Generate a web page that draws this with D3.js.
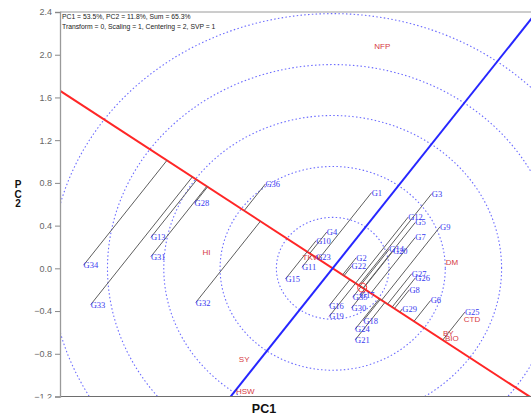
<!DOCTYPE html>
<html><head><meta charset="utf-8">
<script src="https://cdn.jsdelivr.net/npm/d3@7/dist/d3.min.js"></script>
<style>body{margin:0;background:#fff}</style>
</head><body>
<svg id="chart" width="531" height="418"></svg>
<script>
// Genotype scores on the first two principal components
const genotypes = ["G1","G2","G3","G4","G5","G6","G7","G8","G9","G10","G11","G12","G13","G14","G15","G16","G17","G18","G19","G20","G21","G22","G23","G24","G25","G26","G27","G28","G29","G30","G31","G32","G33","G34","G35","G36"];
const genoPC1 = [0.33,0.20,0.84,-0.05,0.70,0.83,0.70,0.65,0.91,-0.14,-0.26,0.64,-1.54,0.48,-0.40,-0.03,0.23,0.26,-0.03,0.51,0.19,0.16,-0.14,0.19,1.12,0.70,0.67,-1.17,0.59,0.16,-1.54,-1.16,-2.05,-2.11,0.17,-0.57];
const genoPC2 = [0.71,0.10,0.70,0.34,0.43,-0.30,0.29,-0.20,0.39,0.26,0.01,0.48,0.29,0.18,-0.10,-0.35,-0.25,-0.49,-0.45,0.16,-0.67,0.02,0.11,-0.57,-0.41,-0.09,-0.05,0.61,-0.38,-0.37,0.11,-0.32,-0.34,0.03,-0.27,0.79];

// Trait (environment) scores
const environments = ["NFP","HI","DM","TKW","CTD","BY","BIO","SY","HSW"];
const envPC1 = [0.42,-1.07,1.01,-0.18,1.18,0.98,1.01,-0.75,-0.74];
const envPC2 = [2.08,0.15,0.06,0.11,-0.47,-0.61,-0.65,-0.85,-1.15];

// Average environment coordinate
const avgEnv = [0.25, -0.18];

const yTicks = [2.4,2.0,1.6,1.2,0.8,0.4,0.0,-0.4,-0.8,-1.2];
const ringRadii = [0.477,0.954,1.431,1.908,2.385];

const headerLines = ["PC1 = 53.5%, PC2 = 11.8%, Sum = 65.3%",
                     "Transform = 0, Scaling = 1, Centering = 2, SVP = 1"];

const svg = d3.select("#chart");
const plotLeft = 60, plotTop = 12, plotBottom = 396.5, plotRight = 531;

const x = d3.scaleLinear().domain([-2.31, 1.68]).range([plotLeft, plotRight]);
const y = d3.scaleLinear().domain([-1.2, 2.4]).range([plotBottom, plotTop]);

svg.append("defs").append("clipPath").attr("id","plot")
  .append("rect").attr("x",plotLeft).attr("y",plotTop).attr("width",600).attr("height",plotBottom-plotTop);

const plot = svg.append("g").attr("clip-path","url(#plot)");

// concentric rings around the biplot origin
const line = d3.line().x(d=>x(d[0])).y(d=>y(d[1]));
ringRadii.forEach(r=>{
  const pts = d3.range(0,361,2).map(a=>[r*Math.cos(a*Math.PI/180), r*Math.sin(a*Math.PI/180)]);
  plot.append("path").attr("d", line(pts))
    .attr("fill","none").attr("stroke","#6b6bff").attr("stroke-width",1.1)
    .attr("stroke-dasharray","1.5,2.3");
});

// AEC abscissa (through origin and average environment) and ordinate
const len = Math.hypot(avgEnv[0], avgEnv[1]);
const u = [avgEnv[0]/len, avgEnv[1]/len];
const far = 6;
plot.append("path").attr("d", line([[-far*u[0],-far*u[1]],[far*u[0],far*u[1]]]))
  .attr("stroke","#ff2626").attr("stroke-width",2).attr("fill","none");
plot.append("path").attr("d", line([[far*u[1],-far*u[0]],[-far*u[1],far*u[0]]]))
  .attr("stroke","#2626ff").attr("stroke-width",2).attr("fill","none");

// projection of each genotype onto the AEC abscissa
genotypes.forEach((g,i)=>{
  const p = [genoPC1[i], genoPC2[i]];
  const t = p[0]*u[0] + p[1]*u[1];
  plot.append("path").attr("d", line([p,[t*u[0],t*u[1]]]))
    .attr("stroke","#5e5e5e").attr("stroke-width",1).attr("fill","none");
});

// average environment marker
plot.append("circle").attr("cx",x(avgEnv[0])).attr("cy",y(avgEnv[1])).attr("r",4.5)
  .attr("fill","none").attr("stroke","#ff3333").attr("stroke-width",1);

// environment labels
environments.forEach((e,i)=>{
  plot.append("text").attr("x",x(envPC1[i])).attr("y",y(envPC2[i])+3)
    .attr("text-anchor","middle").attr("fill","#d63a3f")
    .attr("font-family","Liberation Sans, Arial, sans-serif").attr("font-size",8)
    .text(e);
});

// genotype labels
genotypes.forEach((g,i)=>{
  plot.append("text").attr("x",x(genoPC1[i])).attr("y",y(genoPC2[i])+3)
    .attr("fill","#3a3af0")
    .attr("font-family","Liberation Serif, Times New Roman, serif").attr("font-size",8.5)
    .text(g);
});

// frame
svg.append("line").attr("x1",plotLeft).attr("x2",plotRight).attr("y1",plotTop).attr("y2",plotTop)
  .attr("stroke","#9a9a9a").attr("stroke-width",1);
svg.append("line").attr("x1",plotLeft).attr("x2",plotRight).attr("y1",plotBottom).attr("y2",plotBottom)
  .attr("stroke","#6e6e6e").attr("stroke-width",1.2);

const ax = svg.append("g").attr("transform",`translate(${plotLeft},0)`)
  .call(d3.axisLeft(y).tickValues(yTicks).tickSize(5).tickPadding(3).tickFormat(d3.format(".1f")));
ax.select(".domain").attr("stroke","#9a9a9a").attr("stroke-width",1.3);
ax.selectAll(".tick line").attr("stroke","#888");
ax.selectAll(".tick text").attr("fill","#666").attr("font-size",9)
  .attr("font-family","Liberation Sans, Arial, sans-serif");

// header text
headerLines.forEach((t,i)=>{
  svg.append("text").attr("x",62).attr("y",19+i*9.5).attr("font-size",6.8)
    .attr("font-family","Liberation Sans, Arial, sans-serif").attr("fill","#222").text(t);
});

// cover below the frame, then axis titles
svg.append("rect").attr("x",0).attr("y",398.5).attr("width",531).attr("height",20).attr("fill","#fff");
svg.append("text").attr("x",264).attr("y",413).attr("text-anchor","middle")
  .attr("font-family","Liberation Sans, Arial, sans-serif").attr("font-weight","bold")
  .attr("font-size",12.5).attr("fill","#111").text("PC1");
["P","C","2"].forEach((c,i)=>{
  svg.append("text").attr("x",18).attr("y",188+i*9.5).attr("text-anchor","middle")
    .attr("font-family","Liberation Sans, Arial, sans-serif").attr("font-weight","bold")
    .attr("font-size",10).attr("fill","#111").text(c);
});
</script>
</body></html>
